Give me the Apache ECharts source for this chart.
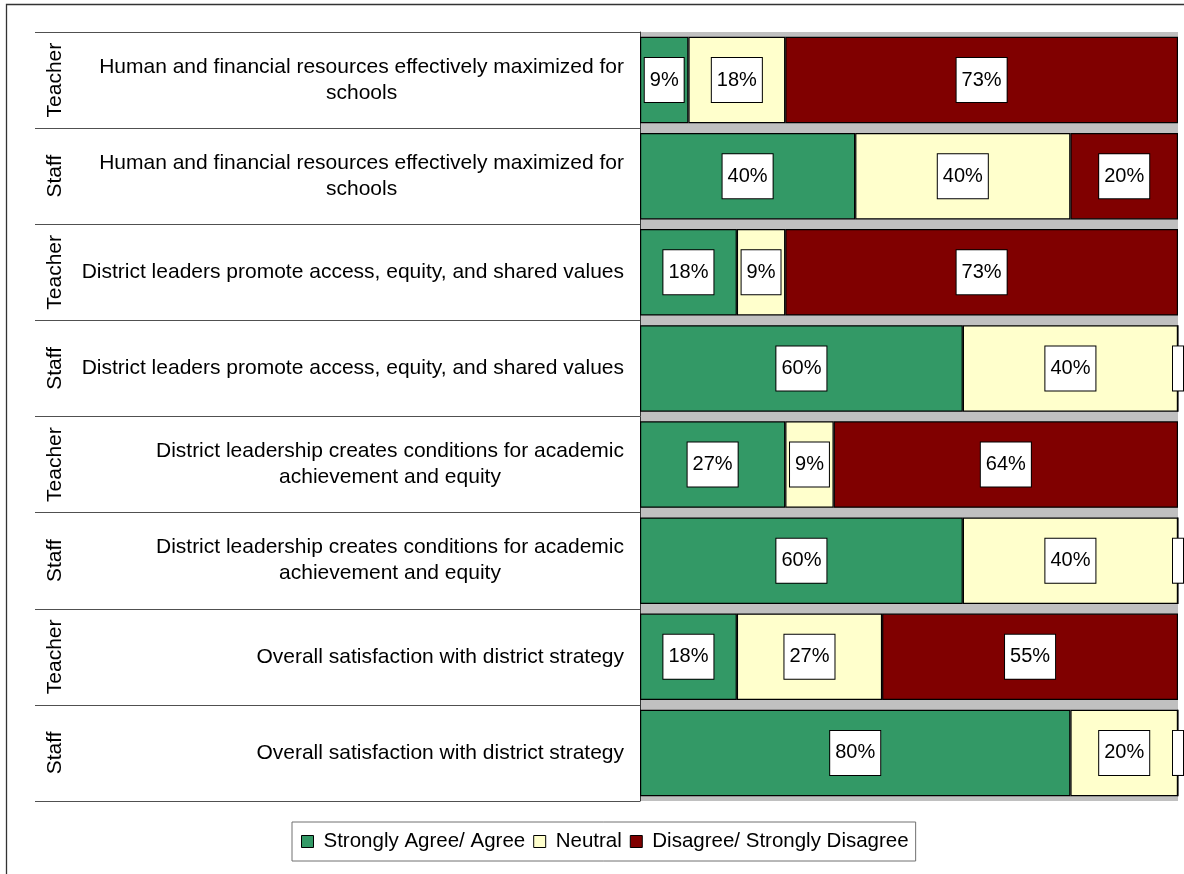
<!DOCTYPE html>
<html>
<head>
<meta charset="utf-8">
<script src="https://cdn.jsdelivr.net/npm/echarts@6/dist/echarts.min.js"></script>
<style>
html,body{margin:0;padding:0;background:#fff;}
#chart{width:1184px;height:874px;}
</style>
</head>
<body>
<div id="chart"></div>
<script>
// Rows, top to bottom
const rowGroups = ['Teacher', 'Staff', 'Teacher', 'Staff', 'Teacher', 'Staff', 'Teacher', 'Staff'];
const rowQuestions = [
  'Human and financial resources effectively maximized for\nschools',
  'Human and financial resources effectively maximized for\nschools',
  'District leaders promote access, equity, and shared values',
  'District leaders promote access, equity, and shared values',
  'District leadership creates conditions for academic\nachievement and equity',
  'District leadership creates conditions for academic\nachievement and equity',
  'Overall satisfaction with district strategy',
  'Overall satisfaction with district strategy'
];
const seriesNames = ['Strongly Agree/ Agree', 'Neutral', 'Disagree/ Strongly Disagree'];
const agreeValues    = [9, 40, 18, 60, 27, 60, 18, 80];
const neutralValues  = [18, 40, 9, 40, 9, 40, 27, 20];
const disagreeValues = [73, 20, 73, 0, 64, 0, 55, 0];
const seriesColors = ['#339966', '#FFFFCC', '#800000'];

const FONT = '"Liberation Sans", Arial, Helvetica, sans-serif';

const chart = echarts.init(document.getElementById('chart'), null, {renderer: 'canvas'});

function makeSeries(name, values, color) {
  return {
    name: name,
    type: 'bar',
    stack: 'total',
    yAxisIndex: 0,
    barCategoryGap: '10%',
    data: values,
    itemStyle: {color: color, borderColor: '#000', borderWidth: 1.2},
    label: {
      show: true,
      position: 'inside',
      formatter: p => (p.value === 0 ? '\u200b' : p.value + '%'),
      color: '#000',
      fontSize: 20,
      fontFamily: FONT,
      lineHeight: 20,
      backgroundColor: '#fff',
      borderColor: '#000',
      borderWidth: 1,
      padding: [12, 5]
    },
    emphasis: {disabled: true},
    silent: true
  };
}

const option = {
  animation: false,
  backgroundColor: '#fff',
  grid: {
    left: 640, right: 6, top: 32, bottom: 73,
    show: true, backgroundColor: '#C0C0C0', borderWidth: 0
  },
  legend: {
    left: 292, top: 822,
    padding: [9, 7, 9, 9],
    borderColor: '#707070', borderWidth: 1, backgroundColor: '#fff',
    itemWidth: 12, itemHeight: 12, itemGap: 8,
    icon: 'rect',
    selectedMode: false,
    textStyle: {fontSize: 20.5, fontFamily: FONT, color: '#000', padding: [0, 0, 0, 5]},
    itemStyle: {borderColor: '#000', borderWidth: 1},
    data: seriesNames
  },
  xAxis: {
    type: 'value', min: 0, max: 100, show: false
  },
  yAxis: [
    {
      type: 'category',
      inverse: true,
      data: rowQuestions,
      axisLine: {show: true, lineStyle: {color: '#333', width: 1}},
      axisTick: {show: true, length: 605, interval: 0, lineStyle: {color: '#505050', width: 1.2}},
      axisLabel: {
        interval: 0,
        margin: 16,
        fontSize: 21,
        fontFamily: FONT,
        color: '#000',
        lineHeight: 26,
        formatter: v => v.split('\n').map(l => '{c|' + l + '}').join('\n'),
        rich: {c: {align: 'center', fontSize: 21, fontFamily: FONT, color: '#000', lineHeight: 26}}
      },
      splitLine: {show: false}
    },
    {
      type: 'category',
      inverse: true,
      position: 'left',
      data: rowGroups,
      axisLine: {show: false},
      axisTick: {show: false},
      axisLabel: {
        interval: 0,
        rotate: 90,
        margin: 574,
        fontSize: 21,
        fontFamily: FONT,
        color: '#000'
      },
      splitLine: {show: false}
    }
  ],
  graphic: [
    {
      type: 'rect',
      shape: {x: 6.5, y: 4.5, width: 1200, height: 900},
      style: {fill: 'none', stroke: '#333', lineWidth: 1.3},
      silent: true,
      z: 100
    }
  ],
  series: [
    makeSeries(seriesNames[0], agreeValues, seriesColors[0]),
    makeSeries(seriesNames[1], neutralValues, seriesColors[1]),
    makeSeries(seriesNames[2], disagreeValues, seriesColors[2])
  ]
};

chart.setOption(option);
</script>
</body>
</html>
